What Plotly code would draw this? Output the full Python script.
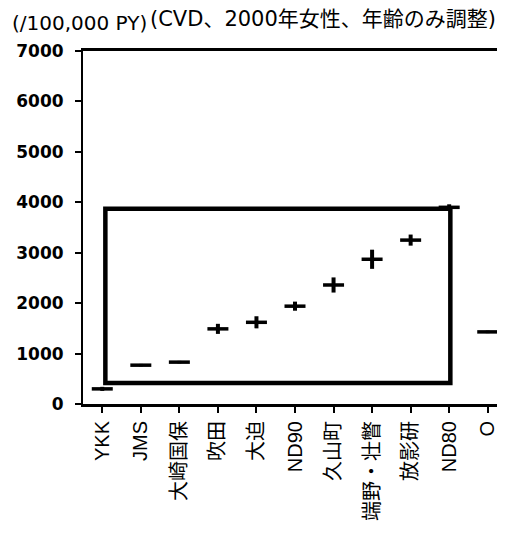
import plotly.graph_objects as go

categories = ["YKK", "JMS", "大崎国保", "吹田", "大迫", "ND90", "久山町", "端野・壮瞥", "放影研", "ND80", "O"]
rates = [300, 770, 830, 1490, 1620, 1940, 2360, 2870, 3250, 3900, 1430]
ci_half = [40, 25, 25, 100, 120, 90, 150, 190, 110, 60, 25]
y_ticks = [0, 1000, 2000, 3000, 4000, 5000, 6000, 7000]
unit_label = "(/100,000 PY)"
subtitle = "(CVD、2000年女性、年齢のみ調整)"

# highlight box (category-index / value coordinates)
box_x = [0.08, 9.03]
box_y = [416, 3870]

OFF = 8  # page body margin
W, H = 499, 525
ML, MR, MT, MB = 83 - OFF, 0, 51 - OFF, 129
pw, ph = W - ML - MR, H - MT - MB

def px_x(p):
    return (p - OFF - ML) / pw

def px_y(p):
    return (H - MB - (p - OFF)) / ph

idx = list(range(len(categories)))

fig = go.Figure()
fig.add_trace(go.Scatter(
    x=idx, y=rates, mode="markers",
    marker=dict(symbol="line-ew", size=15, color="black",
                line=dict(color="black", width=3.5)),
    error_y=dict(type="data", array=ci_half, visible=True,
                 thickness=4, width=0, color="black"),
    showlegend=False, hoverinfo="skip",
))

fig.add_shape(type="rect", xref="x", yref="y",
              x0=box_x[0], x1=box_x[1], y0=box_y[0], y1=box_y[1],
              line=dict(color="black", width=4.5), layer="below")

font_family = "Liberation Sans, Arial, Noto Sans CJK JP, sans-serif"
title_family = "DejaVu Sans, Noto Sans CJK JP, sans-serif"

fig.update_layout(
    width=W, height=H,
    margin=dict(l=ML, r=MR, t=MT, b=MB, pad=0),
    paper_bgcolor="white", plot_bgcolor="white",
    font=dict(family=font_family, color="black"),
    xaxis=dict(
        range=[-0.5, len(categories) - 0.5],
        tickmode="array", tickvals=idx, ticktext=categories,
        tickangle=-90, tickson="boundaries",
        ticks="outside", ticklen=6, tickwidth=2, tickcolor="black",
        showline=True, linewidth=3, linecolor="black", mirror=True,
        showgrid=False, zeroline=False,
        tickfont=dict(size=20, family="Liberation Sans, Noto Sans CJK JP, sans-serif", color="black"),
        fixedrange=True,
    ),
    yaxis=dict(
        range=[0, 7000],
        tickmode="array", tickvals=y_ticks,
        ticks="outside", ticklen=6, tickwidth=2, tickcolor="black",
        showline=True, linewidth=2, linecolor="black",
        showgrid=False, zeroline=False,
        tickfont=dict(size=17, family="DejaVu Sans", color="black", weight="bold"),
        ticklabelstandoff=8,
        fixedrange=True,
    ),
    annotations=[
        dict(text=unit_label, xref="paper", yref="paper",
             x=px_x(10), y=px_y(23), xanchor="left", yanchor="middle",
             showarrow=False, font=dict(size=20, family=title_family, color="black")),
        dict(text=subtitle, xref="paper", yref="paper",
             x=px_x(148), y=px_y(19), xanchor="left", yanchor="middle",
             showarrow=False, font=dict(size=21, family=title_family, color="black")),
    ],
)

fig.write_html("out.html")
